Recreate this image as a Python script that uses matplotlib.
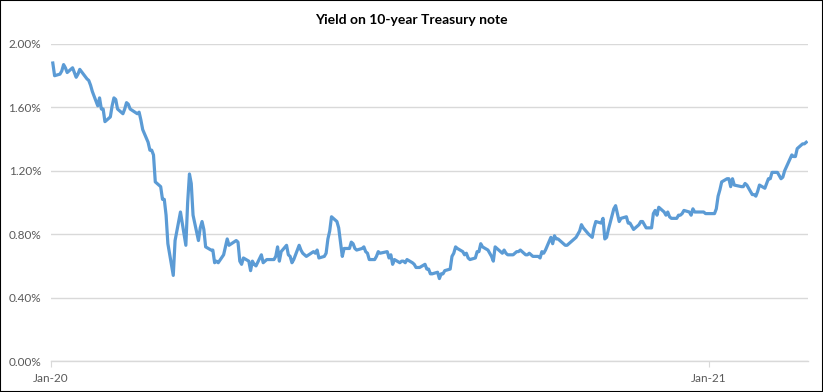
import matplotlib.pyplot as plt
import matplotlib.dates as mdates
from matplotlib.ticker import FuncFormatter
from matplotlib.patches import Rectangle
import pandas as pd

# daily 10-year yields (%)
dates = (
    ["2020-01-%02d" % d for d in [2, 3, 6, 7, 8, 9, 10, 13, 14, 15, 16, 17, 21, 22, 23, 24, 27, 28, 29, 30, 31]]
    + ["2020-02-%02d" % d for d in [3, 4, 5, 6, 7, 10, 11, 12, 13, 14, 18, 19, 20, 21, 24, 25, 26, 27, 28]]
    + ["2020-03-%02d" % d for d in [2, 3, 4, 5, 6, 9, 10, 11, 12, 13, 16, 17, 18, 19, 20, 23, 24, 25, 26, 27, 30, 31]]
    + ["2020-04-%02d" % d for d in [1, 2, 3, 6, 7, 8, 9, 13, 14, 15, 16, 17, 20, 21, 22, 23, 24, 27, 28, 29, 30]]
    + ["2020-05-%02d" % d for d in [1, 4, 5, 6, 7, 8, 11, 12, 13, 14, 15, 18, 19, 20, 21, 22, 26, 27, 28, 29]]
    + ["2020-06-%02d" % d for d in [1, 2, 3, 4, 5, 8, 9, 10, 11, 12, 15, 16, 17, 18, 19, 22, 23, 24, 25, 26, 29, 30]]
    + ["2020-07-%02d" % d for d in [1, 2, 6, 7, 8, 9, 10, 13, 14, 15, 16, 17, 20, 21, 22, 23, 24, 27, 28, 29, 30, 31]]
    + ["2020-08-%02d" % d for d in [3, 4, 5, 6, 7, 10, 11, 12, 13, 14, 17, 18, 19, 20, 21, 24, 25, 26, 27, 28, 31]]
    + ["2020-09-%02d" % d for d in [1, 2, 3, 4, 8, 9, 10, 11, 14, 15, 16, 17, 18, 21, 22, 23, 24, 25, 28, 29, 30]]
    + ["2020-10-%02d" % d for d in [1, 2, 5, 6, 7, 8, 9, 13, 14, 15, 16, 19, 20, 21, 22, 23, 26, 27, 28, 29, 30]]
    + ["2020-11-%02d" % d for d in [2, 3, 4, 5, 6, 9, 10, 12, 13, 16, 17, 18, 19, 20, 23, 24, 25, 27, 30]]
    + ["2020-12-%02d" % d for d in [1, 2, 3, 4, 7, 8, 9, 10, 11, 14, 15, 16, 17, 18, 21, 22, 23, 24, 28, 29, 30, 31]]
    + ["2021-01-%02d" % d for d in [4, 5, 6, 7, 8, 11, 12, 13, 14, 15, 19, 20, 21, 22, 25, 26, 27, 28, 29]]
    + ["2021-02-%02d" % d for d in [1, 2, 3, 4, 5, 8, 9, 10, 11, 12, 16, 17, 18, 19, 22, 23, 24]]
)

yields = [
    # Jan 2020
    1.88, 1.80, 1.81, 1.83, 1.87, 1.85, 1.82, 1.85, 1.82, 1.79, 1.81, 1.84, 1.78, 1.77, 1.74, 1.70, 1.61, 1.66, 1.59, 1.59, 1.51,
    # Feb
    1.54, 1.61, 1.66, 1.65, 1.59, 1.56, 1.59, 1.63, 1.62, 1.59, 1.56, 1.57, 1.52, 1.46, 1.38, 1.33, 1.33, 1.30, 1.13,
    # Mar
    1.10, 1.02, 1.02, 0.92, 0.74, 0.54, 0.76, 0.82, 0.88, 0.94, 0.73, 1.00, 1.18, 1.12, 0.92, 0.76, 0.84, 0.88, 0.83, 0.72, 0.70, 0.70,
    # Apr
    0.62, 0.63, 0.62, 0.67, 0.72, 0.77, 0.73, 0.76, 0.75, 0.63, 0.61, 0.65, 0.63, 0.57, 0.63, 0.61, 0.60, 0.67, 0.62, 0.63, 0.64,
    # May
    0.64, 0.64, 0.66, 0.72, 0.63, 0.69, 0.73, 0.67, 0.66, 0.62, 0.64, 0.73, 0.70, 0.68, 0.67, 0.66, 0.69, 0.68, 0.70, 0.65,
    # Jun
    0.66, 0.68, 0.77, 0.82, 0.91, 0.88, 0.84, 0.75, 0.66, 0.71, 0.71, 0.75, 0.74, 0.71, 0.70, 0.71, 0.72, 0.69, 0.68, 0.64, 0.64, 0.66,
    # Jul
    0.69, 0.68, 0.69, 0.65, 0.67, 0.61, 0.64, 0.62, 0.63, 0.63, 0.62, 0.64, 0.62, 0.61, 0.59, 0.59, 0.59, 0.61, 0.58, 0.58, 0.55, 0.55,
    # Aug
    0.56, 0.52, 0.55, 0.55, 0.57, 0.58, 0.66, 0.68, 0.72, 0.71, 0.69, 0.67, 0.68, 0.65, 0.64, 0.65, 0.69, 0.69, 0.74, 0.72, 0.70,
    # Sep
    0.68, 0.66, 0.63, 0.72, 0.68, 0.70, 0.68, 0.67, 0.67, 0.68, 0.69, 0.69, 0.70, 0.67, 0.67, 0.68, 0.67, 0.66, 0.66, 0.65, 0.69,
    # Oct
    0.68, 0.70, 0.78, 0.74, 0.79, 0.77, 0.77, 0.73, 0.73, 0.74, 0.75, 0.78, 0.80, 0.82, 0.86, 0.84, 0.80, 0.79, 0.78, 0.84, 0.88,
    # Nov
    0.87, 0.90, 0.77, 0.78, 0.83, 0.96, 0.98, 0.88, 0.90, 0.91, 0.87, 0.87, 0.85, 0.83, 0.86, 0.88, 0.88, 0.84, 0.84,
    # Dec
    0.93, 0.95, 0.92, 0.97, 0.94, 0.92, 0.94, 0.91, 0.90, 0.90, 0.92, 0.92, 0.93, 0.95, 0.94, 0.92, 0.96, 0.94, 0.94, 0.94, 0.93, 0.93,
    # Jan 2021
    0.93, 0.96, 1.04, 1.08, 1.13, 1.15, 1.15, 1.10, 1.15, 1.11, 1.10, 1.10, 1.12, 1.11, 1.05, 1.05, 1.04, 1.07, 1.11,
    # Feb 2021
    1.09, 1.12, 1.15, 1.15, 1.19, 1.19, 1.17, 1.15, 1.16, 1.20, 1.30, 1.29, 1.29, 1.34, 1.37, 1.37, 1.38,
]

x_ticks = ["2020-01-01", "2021-01-01"]
y_ticks = [0.0, 0.4, 0.8, 1.2, 1.6, 2.0]

plt.rcParams['font.family'] = ['Lato', 'DejaVu Sans']

fig = plt.figure(figsize=(8.23, 3.92), dpi=100)
ax = fig.add_axes([51 / 823, 31 / 392, 757 / 823, 317 / 392])

x = pd.to_datetime(dates)
ax.plot(x, yields, color='#5B9BD5', linewidth=2.3, solid_joinstyle='round', zorder=3)

ax.set_xlim(pd.Timestamp("2020-01-01"), pd.Timestamp("2021-02-25"))
ax.set_ylim(0, 2.0)
ax.set_yticks(y_ticks)
ax.yaxis.set_major_formatter(FuncFormatter(lambda v, p: "%.2f%%" % v))
ax.set_xticks(pd.to_datetime(x_ticks))
ax.xaxis.set_major_formatter(mdates.DateFormatter("%b-%y"))

ax.grid(axis='y', color='#D9D9D9', linewidth=1)
ax.set_axisbelow(True)
for s in ['left', 'right', 'top']:
    ax.spines[s].set_visible(False)
ax.spines['bottom'].set_color('#D9D9D9')
ax.spines['bottom'].set_linewidth(1)
ax.tick_params(axis='y', length=0, pad=7, labelsize=8.5, labelcolor='#595959')
ax.tick_params(axis='x', length=4, color='#D9D9D9', pad=5, labelsize=8.5, labelcolor='#595959')

fig.text(411 / 823, 1 - 20 / 392, "Yield on 10-year Treasury note", ha='center', va='center',
         fontsize=10, fontweight='bold', color='black')

fig.patches.append(Rectangle((0, 0), 1, 1, transform=fig.transFigure, fill=False,
                             edgecolor='black', linewidth=1.5))

fig.savefig("out.png", dpi=100)
